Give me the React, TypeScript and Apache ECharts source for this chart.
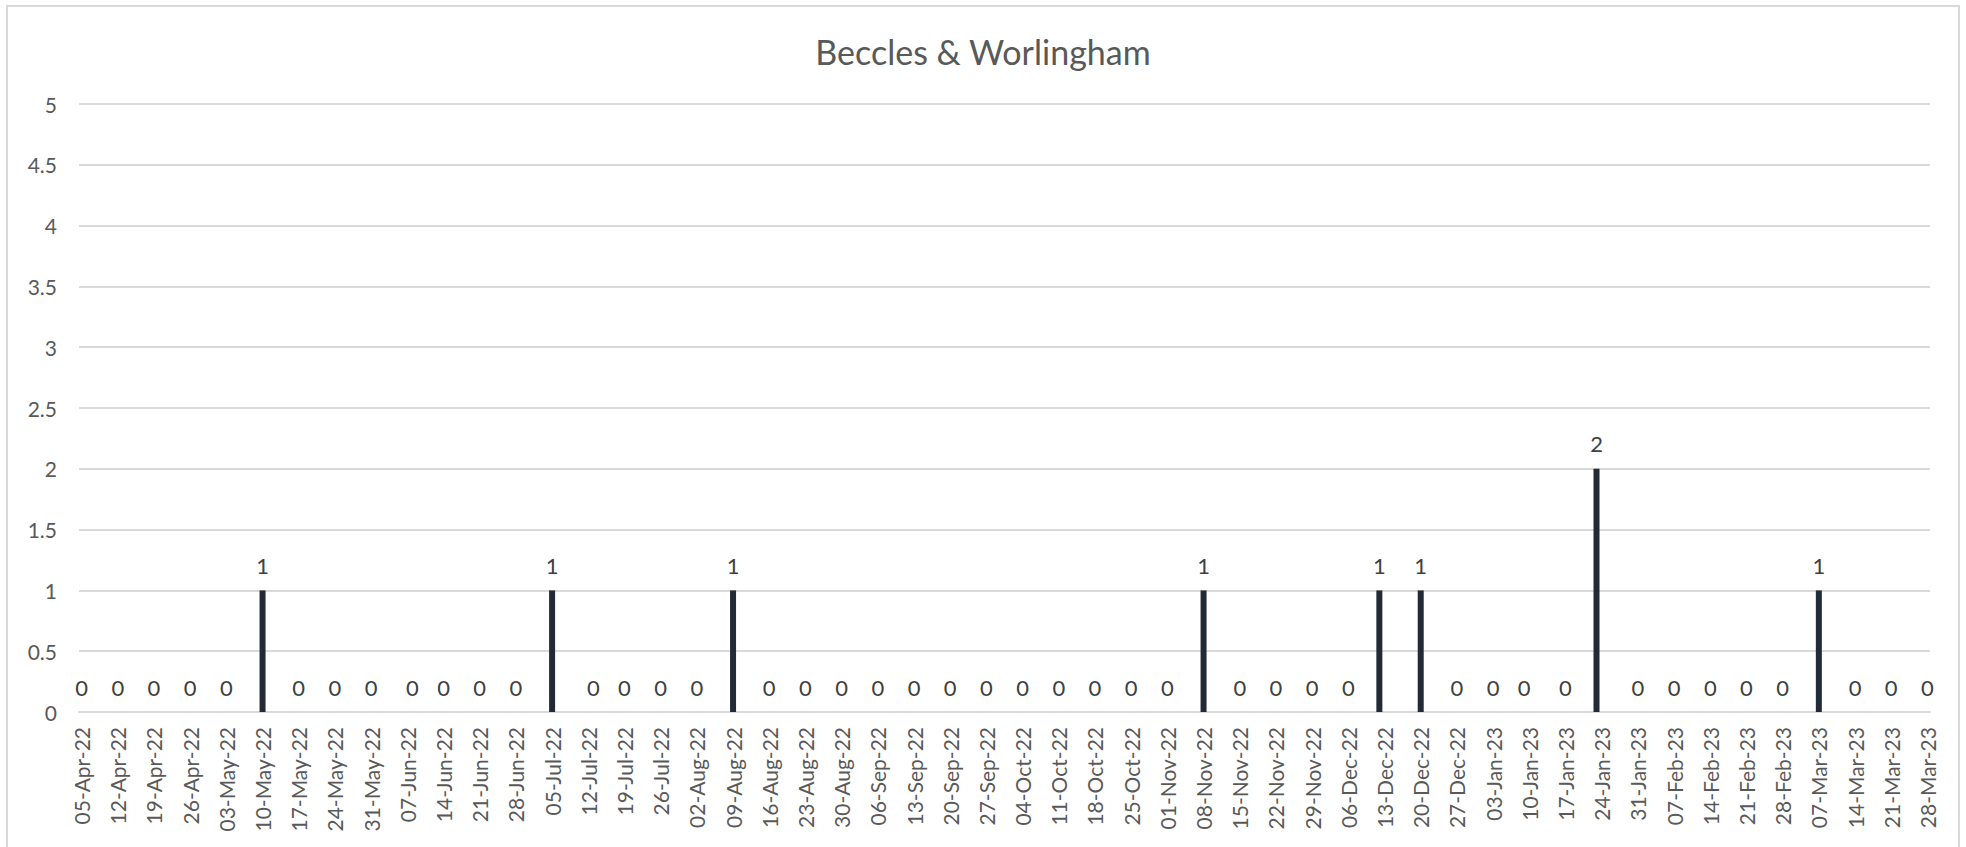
import React, { useEffect, useRef } from "react";
import * as echarts from "echarts";

const chartTitle = "Beccles & Worlingham";

// Dates of the data points (the x axis is a date axis)
const pointDates = [
  "2022-04-05", "2022-04-12", "2022-04-19", "2022-04-26", "2022-05-03", "2022-05-10",
  "2022-05-17", "2022-05-24", "2022-05-31", "2022-06-08", "2022-06-14", "2022-06-21",
  "2022-06-28", "2022-07-05", "2022-07-13", "2022-07-19", "2022-07-26", "2022-08-02",
  "2022-08-09", "2022-08-16", "2022-08-23", "2022-08-30", "2022-09-06", "2022-09-13",
  "2022-09-20", "2022-09-27", "2022-10-04", "2022-10-11", "2022-10-18", "2022-10-25",
  "2022-11-01", "2022-11-08", "2022-11-15", "2022-11-22", "2022-11-29", "2022-12-06",
  "2022-12-12", "2022-12-20", "2022-12-27", "2023-01-03", "2023-01-09", "2023-01-17",
  "2023-01-23", "2023-01-31", "2023-02-07", "2023-02-14", "2023-02-21", "2023-02-28",
  "2023-03-07", "2023-03-14", "2023-03-21", "2023-03-28",
];

const counts = [
  0, 0, 0, 0, 0, 1,
  0, 0, 0, 0, 0, 0,
  0, 1, 0, 0, 0, 0,
  1, 0, 0, 0, 0, 0,
  0, 0, 0, 0, 0, 0,
  0, 1, 0, 0, 0, 0,
  1, 1, 0, 0, 0, 0,
  2, 0, 0, 0, 0, 0,
  1, 0, 0, 0,
];

const tickLabels = [
  "05-Apr-22", "12-Apr-22", "19-Apr-22", "26-Apr-22", "03-May-22", "10-May-22",
  "17-May-22", "24-May-22", "31-May-22", "07-Jun-22", "14-Jun-22", "21-Jun-22",
  "28-Jun-22", "05-Jul-22", "12-Jul-22", "19-Jul-22", "26-Jul-22", "02-Aug-22",
  "09-Aug-22", "16-Aug-22", "23-Aug-22", "30-Aug-22", "06-Sep-22", "13-Sep-22",
  "20-Sep-22", "27-Sep-22", "04-Oct-22", "11-Oct-22", "18-Oct-22", "25-Oct-22",
  "01-Nov-22", "08-Nov-22", "15-Nov-22", "22-Nov-22", "29-Nov-22", "06-Dec-22",
  "13-Dec-22", "20-Dec-22", "27-Dec-22", "03-Jan-23", "10-Jan-23", "17-Jan-23",
  "24-Jan-23", "31-Jan-23", "07-Feb-23", "14-Feb-23", "21-Feb-23", "28-Feb-23",
  "07-Mar-23", "14-Mar-23", "21-Mar-23", "28-Mar-23",
];

const yTicks = { min: 0, max: 5, interval: 0.5 };

const MONTHS: Record<string, number> = {
  Jan: 0, Feb: 1, Mar: 2, Apr: 3, May: 4, Jun: 5, Jul: 6, Aug: 7, Sep: 8, Oct: 9, Nov: 10, Dec: 11,
};
const DAY = 86400000;
const origin = Date.UTC(2022, 3, 5);

function isoToDay(s: string): number {
  const [y, m, d] = s.split("-").map(Number);
  return Math.round((Date.UTC(y, m - 1, d) - origin) / DAY);
}
function labelToDay(s: string): number {
  const [d, mon, yy] = s.split("-");
  return Math.round((Date.UTC(2000 + Number(yy), MONTHS[mon], Number(d)) - origin) / DAY);
}

const tickDays = tickLabels.map(labelToDay);
const labelByDay: Record<number, string> = {};
tickLabels.forEach((l, i) => (labelByDay[tickDays[i]] = l));
const seriesData = pointDates.map((d, i) => [isoToDay(d), counts[i]]);

const FONT = "Lato";

export default function App() {
  const ref = useRef<HTMLDivElement>(null);
  useEffect(() => {
    if (!ref.current) return;
    const chart = echarts.init(ref.current, null, { renderer: "svg" });
    chart.setOption({
      animation: false,
      backgroundColor: "#ffffff",
      textStyle: { fontFamily: FONT },
      title: {
        text: chartTitle,
        left: "center",
        top: 29,
        textStyle: { fontFamily: FONT, fontSize: 34, fontWeight: "normal", color: "#595959" },
      },
      graphic: [
        {
          type: "rect",
          shape: { x: 7, y: 6, width: 1952, height: 860 },
          style: { fill: "none", stroke: "#d9d9d9", lineWidth: 2 },
          silent: true,
        },
      ],
      grid: { left: 79, right: 36, top: 104, bottom: 135, containLabel: false },
      xAxis: {
        type: "value",
        min: tickDays[0] - 0.5,
        max: tickDays[tickDays.length - 1] + 0.5,
        splitLine: { show: false },
        axisTick: { show: false },
        axisLine: { show: true, lineStyle: { color: "#d9d9d9", width: 2 } },
        axisLabel: {
          customValues: tickDays,
          rotate: 90,
          margin: 15,
          fontFamily: FONT,
          fontSize: 21,
          color: "#595959",
          formatter: (v: number) => labelByDay[v] ?? "",
        },
      },
      yAxis: {
        type: "value",
        min: yTicks.min,
        max: yTicks.max,
        interval: yTicks.interval,
        axisLine: { show: false },
        axisTick: { show: false },
        splitLine: { lineStyle: { color: "#d9d9d9", width: 2 } },
        axisLabel: { fontFamily: FONT, fontSize: 21, color: "#595959", margin: 22 },
      },
      series: [
        {
          type: "bar",
          data: seriesData,
          barWidth: 6,
          itemStyle: { color: "#222a35" },
          label: {
            show: true,
            position: "top",
            distance: 14,
            fontFamily: FONT,
            fontSize: 22,
            color: "#404040",
          },
        },
      ],
    });
    return () => chart.dispose();
  }, []);
  return (
    <div
      ref={ref}
      style={{ position: "absolute", left: 0, top: 0, width: 1966, height: 847 }}
    />
  );
}
